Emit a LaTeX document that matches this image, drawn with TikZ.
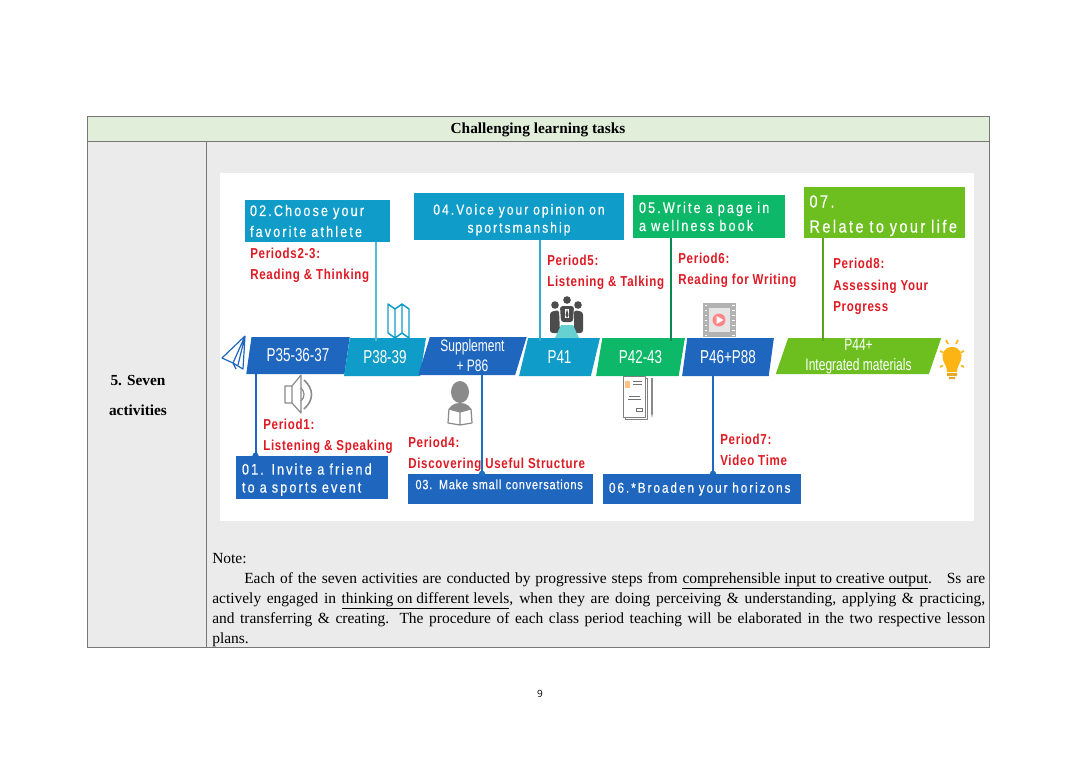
\documentclass[tikz,border=0pt]{standalone}
\usepackage{fontspec}
\setmainfont{Liberation Serif}
\newfontfamily\pagefont[FakeStretch=0.72]{Liberation Sans}
\newfontfamily\spacedfont[LetterSpace=14,FakeStretch=0.82,FakeBold=0.4]{Liberation Sans}
\newfontfamily\tightfont[LetterSpace=6,FakeStretch=0.82,FakeBold=0.4]{Liberation Sans}
\newfontfamily\periodfont[LetterSpace=5,FakeStretch=0.8]{Liberation Sans}
\newfontfamily\footfont{Open Sans}
\usetikzlibrary{arrows.meta,shapes.geometric}
\definecolor{cellgray}{HTML}{EBEBEB}
\definecolor{headgreen}{HTML}{E0EEDA}
\definecolor{rulegray}{HTML}{777777}
\definecolor{azure}{HTML}{1F66BE}
\definecolor{lagoon}{HTML}{0F9CC8}
\definecolor{jade}{HTML}{0DB868}
\definecolor{lime}{HTML}{6CBF1E}
\definecolor{periodred}{HTML}{DE1A24}
\definecolor{icongray}{HTML}{8A8A8A}
\definecolor{bulb}{HTML}{FBB414}
\newcommand{\px}{0.75pt}
\begin{document}
\begin{tikzpicture}[x=0.75pt,y=-0.75pt,
    taskbox/.style={rectangle,inner sep=0pt,outer sep=0pt,align=left,text=white,
                    font=\spacedfont\fontsize{11.5}{13.5}\selectfont},
    pagebar/.style={trapezium,trapezium left angle=75,trapezium right angle=105,
                    trapezium stretches,inner sep=0pt,outer sep=0pt,align=center,
                    text=white,font=\pagefont\fontsize{14}{16}\selectfont},
    periodlabel/.style={anchor=west,inner sep=0pt,align=left,text=periodred,
                    font=\periodfont\bfseries\fontsize{10.8}{16}\selectfont},
    tablehead/.style={inner sep=0pt,font=\bfseries\fontsize{11.5}{13}\selectfont},
    tieline/.style={line width=1.5pt,-{Circle[length=4.5pt]},shorten >=-2pt},
    iconline/.style={draw=icongray,line width=0.9pt,line join=round}]
  \useasboundingbox[fill=white] (0,0) rectangle (1080,764);
  \fill[headgreen] (87,116) rectangle (989,141);
  \fill[cellgray] (87,141) rectangle (989,647);
  \fill[white] (220,173) rectangle (974,521);
  \draw[rulegray,line width=0.7pt] (87,116) rectangle (989,647)
    (87,141) -- (989,141) (206,141) -- (206,647);
  \node[tablehead] (head) at (538,130) {Challenging learning tasks};
  \node[tablehead,align=center,font=\bfseries\fontsize{11.5}{22.5}\selectfont] (row5) at (138,395)
    {5. Seven\\activities};
  \node[pagebar,fill=azure,minimum width=104*\px,minimum height=37*\px] (p35) at (298,355.5) {P35-36-37};
  \node[pagebar,fill=lagoon,minimum width=82*\px,minimum height=38*\px] (p38) at (385,357) {P38-39};
  \node[pagebar,fill=azure,minimum width=109*\px,minimum height=38*\px,
        font=\pagefont\fontsize{12.5}{15}\selectfont] (supp) at (472.5,356) {Supplement\\+ P86};
  \node[pagebar,fill=lagoon,minimum width=81*\px,minimum height=38*\px] (p41) at (559.5,357) {P41};
  \node[pagebar,fill=jade,minimum width=89*\px,minimum height=38*\px] (p42) at (640.5,357) {P42-43};
  \node[pagebar,fill=azure,minimum width=92*\px,minimum height=38*\px] (p46) at (728,357) {P46+P88};
  \node[pagebar,fill=lime,minimum width=167*\px,minimum height=36*\px,
        font=\pagefont\fontsize{12.5}{15}\selectfont] (p44) at (858.5,356) {P44+\\Integrated materials};
  \node[taskbox,fill=lagoon,minimum width=145*\px,minimum height=42*\px,text width=135*\px,
        font=\spacedfont\fontsize{11.5}{15.75}\selectfont] (box02) at (317.5,221)
    {02.Choose your\\favorite athlete};
  \node[taskbox,fill=lagoon,minimum width=210*\px,minimum height=47*\px,text width=200*\px,align=center,
        font=\spacedfont\fontsize{11}{13.5}\selectfont] (box04) at (519,216.5)
    {\rule{0pt}{13pt}04.Voice your opinion on\\sportsmanship};
  \node[taskbox,fill=jade,minimum width=152*\px,minimum height=43*\px,text width=140*\px] (box05) at (709,216.5)
    {05.Write a page in\\a wellness book};
  \node[taskbox,fill=lime,minimum width=161*\px,minimum height=51*\px,text width=150*\px,
        font=\spacedfont\fontsize{13.2}{18.75}\selectfont] (box07) at (884.5,212.5)
    {\rule{0pt}{14pt}07.\\Relate to your life};
  \node[taskbox,fill=azure,minimum width=152*\px,minimum height=43*\px,text width=140*\px] (box01) at (312,477.5)
    {\rule{0pt}{11.5pt}01. Invite a friend\\to a sports event};
  \node[taskbox,fill=azure,minimum width=185*\px,minimum height=30*\px,text depth=7pt,text width=170*\px,
        font=\tightfont\fontsize{10}{13}\selectfont] (box03) at (500.5,489)
    {03. Make small conversations};
  \node[taskbox,fill=azure,minimum width=198*\px,minimum height=30*\px,text width=186*\px,
        font=\spacedfont\fontsize{10.7}{13.5}\selectfont] (box06) at (702,489)
    {06.*Broaden your horizons};
  \draw[tieline,color=lagoon!70,-] (376,0 |- box02.south) -- (376,0 |- p38.north);
  \draw[tieline,color=lagoon!85,-] (539.5,0 |- box04.south) -- (539.5,0 |- p41.north);
  \draw[tieline,color=jade!75!black,-] (671,0 |- box05.south) -- (671,0 |- p42.north);
  \draw[tieline,color=lime!85!black,-] (822.5,0 |- box07.south) -- (822.5,0 |- p44.north);
  \draw[tieline,color=azure] (255.5,0 |- p35.south) -- (255.5,0 |- box01.north);
  \draw[tieline,color=azure!80!lagoon] (482,0 |- supp.south) -- (482,0 |- box03.north);
  \draw[tieline,color=azure!90!lagoon] (713,0 |- p46.south) -- (713,0 |- box06.north);
  \node[periodlabel] (per23) at (250,265.5) {Periods2-3:\\Reading \& Thinking};
  \node[periodlabel] (per5) at (547,272.5) {Period5:\\Listening \& Talking};
  \node[periodlabel] (per6) at (678,270) {Period6:\\Reading for Writing};
  \node[periodlabel] (per8) at (833,286.5) {Period8:\\Assessing Your\\Progress};
  \node[periodlabel] (per1) at (263,436) {Period1:\\Listening \& Speaking};
  \node[periodlabel] (per4) at (408,454) {Period4:\\Discovering Useful Structure};
  \node[periodlabel] (per7) at (720,450) {Period7:\\Video Time};
  \draw[azure,line width=0.9pt,line join=round] (245,336) -- (222,358) -- (233,363) -- cycle
    (245,336) -- (243,369) -- (233,363) -- (236,369) (245,336) -- (238,365);
  \draw[iconline] (285,386) -- (292,386) -- (301,375) -- (301,413) -- (292,403) -- (285,403) -- cycle
    (292,386) -- (292,403);
  \draw[iconline,line width=1.2pt] (304,380) .. controls (314,389) and (314,400) .. (304,409);
  \draw[iconline] (301,388) .. controls (305,392) and (305,397) .. (301,401);
  \draw[lagoon,line width=1.1pt,line join=round] (388,304) -- (395,309) -- (402,304) -- (409,309) -- (409,338)
    -- (402,333) -- (395,338) -- (388,333) -- cycle (395,309) -- (395,338) (402,304) -- (402,333);
  \fill[icongray] (460,392) ellipse [x radius=9,y radius=11];
  \fill[icongray] (448,416) .. controls (448,406) and (453,403) .. (460,403)
    .. controls (467,403) and (472,406) .. (472,416) -- cycle;
  \draw[iconline,fill=white] (449,409) -- (460,412) -- (471,409) -- (472,423) -- (460,425) -- (448,423) -- cycle
    (460,412) -- (460,425);
  \fill[black!70] (567,300) circle [radius=3.8] (555,305) circle [radius=3.8] (578,305) circle [radius=3.8];
  \fill[black!70,rounded corners=2pt] (550,333) -- (550,312) -- (559,310) -- (560,333) -- cycle
    (574,310) -- (583,312) -- (583,333) -- (574,333) -- cycle (560,306) -- (574,306) -- (573,322) -- (561,322) -- cycle;
  \fill[white] (565,309) -- (569,309) -- (569,318) -- (565,318) -- cycle;
  \fill[black!70] (567,309) -- (568.5,315) -- (567,318) -- (565.5,315) -- cycle;
  \fill[teal!60!cyan!60!white] (561,325) -- (573,325) -- (579,338) -- (555,338) -- cycle;
  \draw[black!50,line width=0.7pt,fill=white,line join=round] (625,378) rectangle (647,419);
  \draw[black!50,line width=0.7pt,fill=white,line join=round] (623,376) rectangle (645,417);
  \fill[orange!80,fill opacity=0.6] (625,381) rectangle (630,388);
  \draw[black!55,line width=0.6pt] (633,381) -- (642,381) (633,384) -- (642,384) (629,396) -- (640,396)
    (628,399) -- (641,399) (636,408) -- (642,408) -- (642,411) -- (636,411) -- cycle;
  \draw[icongray,line width=2.2pt] (652,378) -- (652,412);
  \fill[icongray] (650.8,412) -- (653.2,412) -- (652,418) -- cycle;
  \fill[black!30] (703,303) rectangle (736,337);
  \fill[black!10] (709,308) rectangle (730,332);
  \foreach \holey in {306,311,...,336} {
    \fill[white] (704.5,\holey-1.5) rectangle (707,\holey);
    \fill[white] (732,\holey-1.5) rectangle (734.5,\holey);
  }
  \fill[pink!70!red] (719,320) circle [radius=6.5];
  \fill[white] (716.5,316) -- (723.5,320) -- (716.5,324) -- cycle;
  \fill[bulb] (952,347) .. controls (944,347) and (941,354) .. (943,360) .. controls (945,365) and (947,367) .. (947,372)
    -- (957,372) .. controls (957,367) and (959,365) .. (961,360) .. controls (963,354) and (960,347) .. (952,347) -- cycle;
  \fill[bulb!80!gray] (947,373) rectangle (957,376) (949,377) rectangle (955,379);
  \draw[bulb,line width=1.3pt] (946,340) -- (948,344) (958,340) -- (956,344) (964,351) -- (961,352.5)
    (964,367) -- (961,365.5) (940,351) -- (943,352.5) (940,367) -- (943,365.5);
  \node[inner sep=0pt,anchor=north west,text width=773*\px,align=justify,
        font=\fontsize{11.6}{15}\selectfont] (note) at (212,553)
    {Note:\\
     \hspace*{24pt}Each of the seven activities are conducted by progressive steps from
     \underline{comprehensible input to creative output}.\ \ \ Ss are\linebreak
     actively engaged in \underline{thinking on different levels}, when they are doing
     perceiving \& understanding, applying \& practicing,\linebreak
     and transferring \& creating. The procedure of each class period teaching will be
     elaborated in the two respective lesson\linebreak
     plans.};
  \node[inner sep=0pt,font=\footfont\fontsize{7.5}{9}\selectfont] (pageno) at (540,693.5) {9};
\end{tikzpicture}
\end{document}
